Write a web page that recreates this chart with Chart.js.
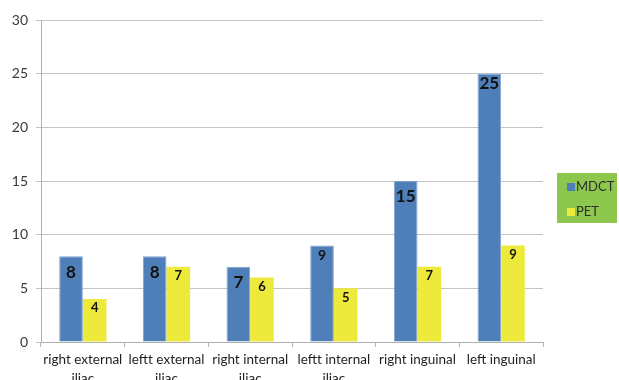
<!DOCTYPE html>
<html>
<head>
<meta charset="utf-8">
<script src="https://cdn.jsdelivr.net/npm/chart.js@4.4.1/dist/chart.umd.min.js"></script>
<style>
  html, body { margin: 0; padding: 0; background: #ffffff; }
  #wrap { width: 619px; height: 380px; }
</style>
</head>
<body>
<div id="wrap"><canvas id="c" width="619" height="380"></canvas></div>
<script>
// Lymph node stations (two-line axis labels)
const categories = [
  ["right external", "iliac"],
  ["leftt external", "iliac"],
  ["right internal", "iliac"],
  ["leftt internal", "iliac"],
  ["right inguinal"],
  ["left inguinal"]
];
const seriesNames = ["MDCT", "PET"];
const mdctValues = [8, 8, 7, 9, 15, 25];
const petValues = [4, 7, 6, 5, 7, 9];
const yTicks = [0, 5, 10, 15, 20, 25, 30];

const FONT = "Lato, 'Open Sans', 'Liberation Sans', sans-serif";
const BLUE = "#4F7FB8";
const YELLOW = "#EEEA3C";

// Value labels printed inside the top of each bar
const valueLabels = {
  id: "valueLabels",
  afterDatasetsDraw(chart) {
    const ctx = chart.ctx;
    ctx.save();
    ctx.textAlign = "center";
    ctx.textBaseline = "middle";
    ctx.fillStyle = "#111111";
    chart.data.datasets.forEach((ds, di) => {
      const meta = chart.getDatasetMeta(di);
      meta.data.forEach((bar, i) => {
        const v = ds.data[i];
        const big = di === 0;
        const size = big ? (v === 9 ? 14 : 17) : 13;
        const dy = big ? (v >= 20 || v === 9 ? 10 : 16) : 9;
        ctx.font = "bold " + size + "px " + FONT;
        ctx.fillText(String(v), bar.x, bar.y + dy);
      });
    });
    ctx.restore();
  }
};

// Legend panel on a green background at the right
const sideLegend = {
  id: "sideLegend",
  afterDraw(chart) {
    const ctx = chart.ctx;
    ctx.save();
    ctx.fillStyle = "#8DC74E";
    ctx.fillRect(557, 173, 60, 50);
    const colors = [BLUE, YELLOW];
    ctx.font = "13px " + FONT;
    ctx.textBaseline = "middle";
    ctx.textAlign = "left";
    seriesNames.forEach((name, i) => {
      const cy = 187 + i * 25;
      ctx.fillStyle = colors[i];
      ctx.fillRect(567, cy - 4, 8, 8);
      ctx.fillStyle = "#2E2E2E";
      ctx.fillText(name, 576, cy);
    });
    ctx.restore();
  }
};

new Chart(document.getElementById("c"), {
  type: "bar",
  data: {
    labels: categories,
    datasets: [
      { label: seriesNames[0], data: mdctValues, backgroundColor: BLUE, borderColor: "#7FA3CF", borderWidth: 1 },
      { label: seriesNames[1], data: petValues, backgroundColor: YELLOW, borderWidth: 0 }
    ]
  },
  options: {
    responsive: false,
    animation: false,
    devicePixelRatio: 1,
    layout: { padding: { top: 20, right: 76, left: 0, bottom: 0 } },
    datasets: { bar: { categoryPercentage: 0.565, barPercentage: 1.0 } },
    plugins: {
      legend: { display: false },
      tooltip: { enabled: false }
    },
    scales: {
      x: {
        grid: { display: true, drawOnChartArea: false, drawTicks: true, tickLength: 5, color: "#B0B0B0", offset: true },
        border: { display: true, color: "#B0B0B0" },
        ticks: {
          color: "#1E1E1E",
          font: { family: FONT, size: 13.5, lineHeight: 1.4 },
          padding: 3,
          maxRotation: 0,
          autoSkip: false
        },
        afterFit(scale) { scale.height = 38; }
      },
      y: {
        min: 0,
        max: 30,
        afterBuildTicks(scale) { scale.ticks = yTicks.map(v => ({ value: v })); },
        grid: { color: "#C4C4C4", tickLength: 5, drawTicks: true },
        border: { display: true, color: "#B0B0B0" },
        ticks: {
          color: "#3A3A3A",
          font: { family: FONT, size: 14 },
          padding: 8
        },
        afterFit(scale) { scale.width = 41; }
      }
    }
  },
  plugins: [valueLabels, sideLegend]
});
</script>
</body>
</html>
